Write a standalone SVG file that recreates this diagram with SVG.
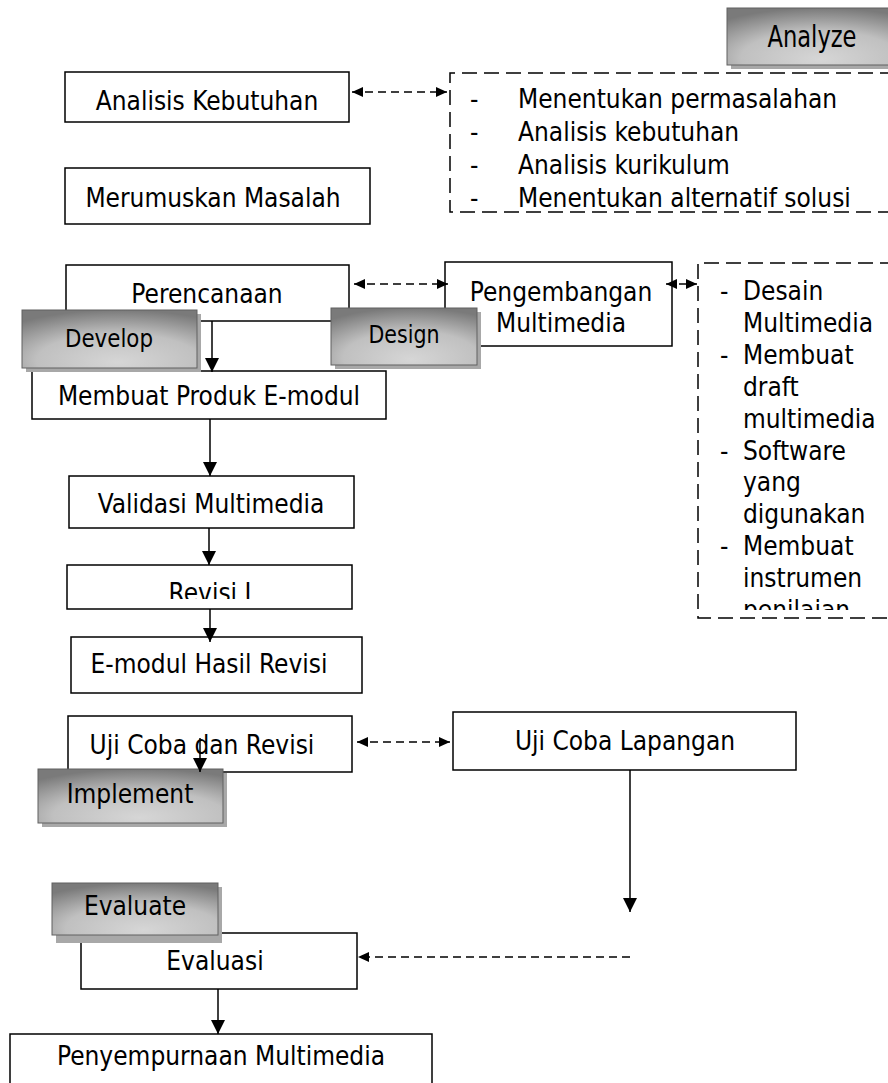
<svg xmlns="http://www.w3.org/2000/svg" width="888" height="1083" viewBox="0 0 888 1083">
<style>
text{font-family:"DejaVu Sans Condensed","DejaVu Sans","Liberation Sans",sans-serif;font-stretch:condensed;font-size:26px;fill:#000}
.box{fill:#fff;stroke:#000;stroke-width:1.5}
.dbox{fill:none;stroke:#000;stroke-width:1.5;stroke-dasharray:15,7}
.lbl{fill:url(#lg);stroke:#606060;stroke-width:1}
.shd{fill:#a8a8a8}
.c{text-anchor:middle}
.ln{stroke:#000;stroke-width:1.5;fill:none}
.dl{stroke:#000;stroke-width:1.5;fill:none;stroke-dasharray:8,5}
</style>
<defs>
<radialGradient id="lg" cx="0.55" cy="0.85" r="0.85" fx="0.55" fy="0.9">
<stop offset="0" stop-color="#d6d6d6"/>
<stop offset="0.55" stop-color="#c0c0c0"/>
<stop offset="1" stop-color="#7a7a7a"/>
</radialGradient>
<marker id="ah" viewBox="0 0 14 14" markerWidth="14" markerHeight="14" refX="14" refY="7" orient="auto" markerUnits="userSpaceOnUse">
<path d="M0,0 L14,7 L0,14 Z" fill="#000"/>
</marker>
<marker id="hs" viewBox="0 0 11 10" markerWidth="11" markerHeight="10" refX="11" refY="5" orient="auto-start-reverse" markerUnits="userSpaceOnUse">
<path d="M0,0 L11,5 L0,10 Z" fill="#000"/>
</marker>
<clipPath id="cRev"><rect x="60" y="560" width="300" height="39"/></clipPath>
<clipPath id="cList2"><rect x="700" y="265" width="188" height="345"/></clipPath>
</defs>
<rect width="888" height="1083" fill="#fff"/>

<g id="analisis-kebutuhan">
<rect class="box" x="65" y="72" width="284" height="50"/>
<text class="c" x="207" y="110">Analisis Kebutuhan</text>
</g>
<g id="merumuskan-masalah">
<rect class="box" x="65" y="168" width="305" height="56"/>
<text class="c" x="213" y="207">Merumuskan Masalah</text>
</g>
<g id="analisis-list">
<path class="dbox" d="M895,73 H450 V212 H895"/>
<text x="470" y="108">-</text><text x="518" y="108">Menentukan permasalahan</text>
<text x="470" y="141">-</text><text x="518" y="141">Analisis kebutuhan</text>
<text x="470" y="174">-</text><text x="518" y="174">Analisis kurikulum</text>
<text x="470" y="207">-</text><text x="518" y="207">Menentukan alternatif solusi</text>
</g>
<g id="perencanaan">
<rect class="box" x="66" y="265" width="283" height="56"/>
<text class="c" x="207" y="303">Perencanaan</text>
</g>
<g id="pengembangan-multimedia">
<rect class="box" x="445" y="262" width="227" height="84"/>
<text class="c" x="561" y="301">Pengembangan</text>
<text class="c" x="561" y="332">Multimedia</text>
</g>
<g id="design-list">
<path class="dbox" d="M895,263 H698 V618 H895"/>
<g clip-path="url(#cList2)">
<text x="720" y="300">-</text><text x="743" y="300">Desain</text>
<text x="743" y="332">Multimedia</text>
<text x="720" y="364">-</text><text x="743" y="364">Membuat</text>
<text x="743" y="396">draft</text>
<text x="743" y="428">multimedia</text>
<text x="720" y="460">-</text><text x="743" y="460">Software</text>
<text x="743" y="491">yang</text>
<text x="743" y="523">digunakan</text>
<text x="720" y="555">-</text><text x="743" y="555">Membuat</text>
<text x="743" y="587">instrumen</text>
<text x="743" y="619">penilaian</text>
</g>
</g>
<g id="membuat-produk">
<rect class="box" x="32" y="371" width="354" height="48"/>
<text class="c" x="209" y="405">Membuat Produk E-modul</text>
</g>
<g id="validasi-multimedia">
<rect class="box" x="69" y="476" width="285" height="52"/>
<text class="c" x="211" y="513">Validasi Multimedia</text>
</g>
<g id="revisi-1">
<rect class="box" x="67" y="565" width="285" height="44"/>
<text class="c" x="210" y="602" clip-path="url(#cRev)">Revisi I</text>
</g>
<g id="emodul-hasil-revisi">
<rect class="box" x="71" y="637" width="291" height="56"/>
<text class="c" x="209" y="673">E-modul Hasil Revisi</text>
</g>
<g id="uji-coba-revisi">
<rect class="box" x="68" y="716" width="284" height="56"/>
<text class="c" x="202" y="754">Uji Coba dan Revisi</text>
</g>
<g id="uji-coba-lapangan">
<rect class="box" x="453" y="712" width="343" height="58"/>
<text class="c" x="625" y="750">Uji Coba Lapangan</text>
</g>
<g id="evaluasi">
<rect class="box" x="81" y="933" width="276" height="56"/>
<text class="c" x="215" y="970">Evaluasi</text>
</g>
<g id="penyempurnaan-multimedia">
<rect class="box" x="10" y="1034" width="422" height="60"/>
<text class="c" x="221" y="1065">Penyempurnaan Multimedia</text>
</g>

<g id="label-analyze">
<rect class="shd" x="731" y="12" width="170" height="57"/>
<rect class="lbl" x="727" y="8" width="170" height="57"/>
<text class="c" x="812" y="47" style="font-size:30px" textLength="89" lengthAdjust="spacingAndGlyphs">Analyze</text>
</g>
<g id="label-develop">
<rect class="shd" x="26" y="314" width="175" height="58"/>
<rect class="lbl" x="22" y="310" width="175" height="58"/>
<text class="c" x="109" y="347" style="font-size:25px" textLength="88" lengthAdjust="spacingAndGlyphs">Develop</text>
</g>
<g id="label-design">
<rect class="shd" x="335" y="312" width="146" height="57"/>
<rect class="lbl" x="331" y="308" width="146" height="57"/>
<text class="c" x="404" y="343" style="font-size:25px" textLength="71" lengthAdjust="spacingAndGlyphs">Design</text>
</g>
<g id="label-implement">
<rect class="shd" x="42" y="773" width="185" height="54"/>
<rect class="lbl" x="38" y="769" width="185" height="54"/>
<text class="c" x="130" y="803">Implement</text>
</g>
<g id="label-evaluate">
<rect class="shd" x="56" y="887" width="166" height="56"/>
<rect class="lbl" x="52" y="883" width="166" height="52"/>
<text class="c" x="135" y="915">Evaluate</text>
</g>

<g id="connectors">
<line class="dl" x1="352" y1="92" x2="447" y2="92" marker-start="url(#hs)" marker-end="url(#hs)"/>
<line class="dl" x1="354" y1="284" x2="448" y2="284" marker-start="url(#hs)" marker-end="url(#hs)"/>
<line class="dl" x1="666" y1="284" x2="697" y2="284" marker-start="url(#hs)" marker-end="url(#hs)"/>
<line class="ln" x1="212" y1="321" x2="212" y2="372" marker-end="url(#ah)"/>
<line class="ln" x1="210" y1="419" x2="210" y2="476" marker-end="url(#ah)"/>
<line class="ln" x1="209" y1="528" x2="209" y2="565" marker-end="url(#ah)"/>
<line class="ln" x1="210" y1="609" x2="210" y2="642" marker-end="url(#ah)"/>
<line class="ln" x1="200" y1="738" x2="200" y2="772" marker-end="url(#ah)"/>
<line class="dl" x1="357" y1="742" x2="450" y2="742" marker-start="url(#hs)" marker-end="url(#hs)"/>
<line class="ln" x1="630" y1="770" x2="630" y2="912" marker-end="url(#ah)"/>
<line class="dl" x1="630" y1="957" x2="358" y2="957" marker-end="url(#hs)"/>
<line class="ln" x1="218" y1="989" x2="218" y2="1034" marker-end="url(#ah)"/>
</g>
</svg>
